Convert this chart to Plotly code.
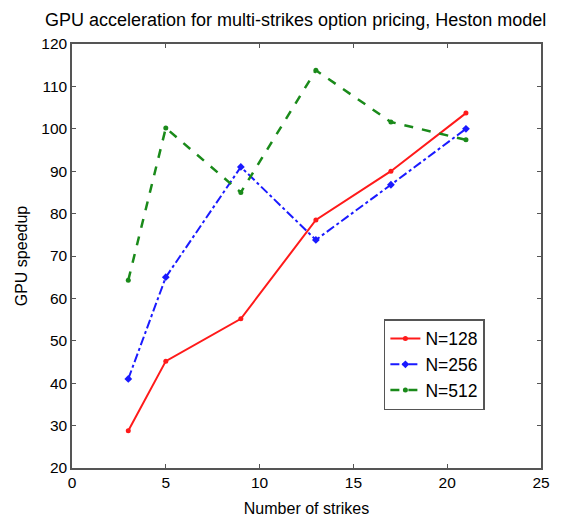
import plotly.graph_objects as go

strikes = [3, 5, 9, 13, 17, 21]
speedup_128 = [28.8, 45.2, 55.2, 78.5, 90.0, 103.7]
speedup_256 = [41.0, 65.0, 91.0, 73.8, 86.8, 100.0]
speedup_512 = [64.3, 100.2, 85.0, 113.8, 101.6, 97.4]
series_names = ["N=128", "N=256", "N=512"]
x_ticks = [0, 5, 10, 15, 20, 25]
y_ticks = [20, 30, 40, 50, 60, 70, 80, 90, 100, 110, 120]

fig = go.Figure()
fig.add_trace(go.Scatter(x=strikes, y=speedup_128, name=series_names[0], mode="lines+markers",
                         line=dict(color="#ff1a1a", width=2, dash="solid"),
                         marker=dict(size=5, color="#ff1a1a")))
fig.add_trace(go.Scatter(x=strikes, y=speedup_256, name=series_names[1], mode="lines+markers",
                         line=dict(color="#1a1aff", width=2, dash="dashdot"),
                         marker=dict(size=6, color="#1a1aff", symbol="diamond")))
fig.add_trace(go.Scatter(x=strikes, y=speedup_512, name=series_names[2], mode="lines+markers",
                         line=dict(color="#1a8a1a", width=2.5, dash="dash"),
                         marker=dict(size=5, color="#1a8a1a")))

axis_common = dict(showgrid=False, zeroline=False, showline=True, linecolor="#555",
                   linewidth=1.5, mirror="ticks", ticks="inside", ticklen=4,
                   tickcolor="#555", tickfont=dict(size=15.5, color="#000"))

fig.update_layout(
    width=561, height=517,
    paper_bgcolor="white", plot_bgcolor="white",
    font=dict(family="Liberation Sans, Arial, sans-serif", color="#000"),
    margin=dict(l=64, r=28, t=36, b=57, autoexpand=False),
    title=dict(text="GPU acceleration for multi-strikes option pricing, Heston model",
               xref="container", x=0.066, xanchor="left", y=0.99, yanchor="top",
               font=dict(size=18, color="#000")),
    xaxis=dict(range=[0, 25], tickvals=x_ticks,
               title=dict(text="Number of strikes", font=dict(size=16), standoff=12), **axis_common),
    yaxis=dict(range=[20, 120], tickvals=y_ticks,
               title=dict(text="GPU speedup", font=dict(size=16), standoff=10), **axis_common),
    legend=dict(x=0.665, y=0.351, xanchor="left", yanchor="top", bgcolor="white",
                bordercolor="#555", borderwidth=1.5, font=dict(size=17.5, color="#000"),
                tracegroupgap=0, itemwidth=30),
    showlegend=True,
)

fig.write_html("out.html")
